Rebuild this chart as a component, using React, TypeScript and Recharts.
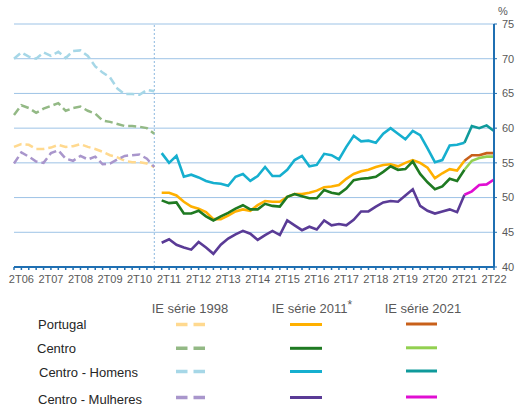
import { LineChart, Line, XAxis, YAxis, CartesianGrid, ReferenceLine } from "recharts";

const quarters = [
  "1T06", "2T06", "3T06", "4T06", "1T07", "2T07", "3T07", "4T07",
  "1T08", "2T08", "3T08", "4T08", "1T09", "2T09", "3T09", "4T09",
  "1T10", "2T10", "3T10", "4T10", "1T11", "2T11", "3T11", "4T11",
  "1T12", "2T12", "3T12", "4T12", "1T13", "2T13", "3T13", "4T13",
  "1T14", "2T14", "3T14", "4T14", "1T15", "2T15", "3T15", "4T15",
  "1T16", "2T16", "3T16", "4T16", "1T17", "2T17", "3T17", "4T17",
  "1T18", "2T18", "3T18", "4T18", "1T19", "2T19", "3T19", "4T19",
  "1T20", "2T20", "3T20", "4T20", "1T21", "2T21", "3T21", "4T21",
  "1T22", "2T22",
];

const yTicks = [40, 45, 50, 55, 60, 65, 70, 75];
const breakQuarter = "4T10";

// IE série 1998 (1T06 - 4T10)
const portugal98 = [57.3, 57.7, 57.6, 57.0, 57.0, 57.2, 57.6, 57.3, 57.4, 57.7, 57.3, 57.0, 56.6, 56.1, 55.8, 55.3, 55.1, 55.1, 54.9, 54.4];
const centro98 = [61.9, 63.3, 62.9, 62.2, 62.8, 63.2, 63.6, 62.5, 62.9, 63.1, 62.5, 62.1, 61.1, 60.9, 60.6, 60.3, 60.3, 60.2, 60.0, 59.2];
const homens98 = [70.0, 70.9, 70.3, 70.0, 70.9, 70.4, 71.0, 70.1, 71.1, 71.2, 70.4, 68.9, 68.0, 67.3, 65.7, 64.9, 64.9, 64.8, 65.5, 65.3];
const mulheres98 = [54.9, 56.5, 55.9, 55.2, 55.0, 56.4, 56.8, 55.6, 55.3, 56.0, 55.5, 55.9, 54.8, 54.9, 55.5, 56.0, 56.1, 56.2, 55.6, 54.4];

// IE série 2011 (1T11 - 2T21)
const portugal11 = [
  50.7, 50.7, 50.3, 49.4, 48.7, 48.4, 47.9, 46.9, 46.9, 47.4,
  48.0, 48.3, 48.1, 48.9, 49.5, 49.4, 49.4, 50.1, 50.5, 50.5,
  50.7, 51.0, 51.5, 51.6, 51.8, 52.7, 53.4, 53.8, 54.0, 54.4,
  54.7, 54.8, 54.5, 55.0, 55.4, 55.0, 54.3, 52.8, 53.5, 54.1,
  53.9, 55.3,
];
const centro11 = [
  49.6, 49.2, 49.3, 47.7, 47.7, 48.1, 47.3, 46.7, 47.3, 47.8,
  48.4, 48.9, 48.3, 48.3, 49.1, 48.8, 48.7, 50.1, 50.5, 50.2,
  49.9, 49.9, 51.1, 50.7, 50.5, 51.3, 52.5, 52.7, 52.8, 53.0,
  53.7, 54.5, 54.0, 54.1, 55.2, 53.4, 52.2, 51.2, 51.6, 52.7,
  52.4, 54.0,
];
const homens11 = [
  56.4, 55.0, 56.0, 53.0, 53.3, 52.9, 52.4, 52.1, 52.0, 51.7,
  53.0, 53.4, 52.4, 53.1, 54.4, 53.1, 53.1, 54.0, 55.4, 56.0,
  54.5, 54.7, 56.3, 56.1, 55.5, 57.3, 58.9, 58.1, 58.2, 57.9,
  59.2, 60.0, 59.2, 58.4, 59.6, 59.0, 57.1, 55.1, 55.4, 57.5,
  57.6, 57.9,
];
const mulheres11 = [
  43.5, 44.0, 43.2, 42.8, 42.5, 43.6, 42.8, 41.9, 43.2, 44.1,
  44.7, 45.2, 44.8, 43.9, 44.6, 45.2, 44.6, 46.7, 46.0, 45.3,
  45.8, 45.4, 46.7, 46.0, 46.2, 46.0, 46.8, 48.0, 48.0, 48.7,
  49.3, 49.5, 49.4, 50.3, 51.2, 48.8, 48.1, 47.7, 48.0, 48.3,
  47.9, 50.4,
];

// IE série 2021 (2T21 - 2T22)
const portugal21 = [55.3, 56.1, 56.1, 56.4, 56.4];
const centro21 = [54.0, 55.3, 55.7, 55.9, 55.9];
const homens21 = [57.9, 60.3, 60.0, 60.4, 59.6];
const mulheres21 = [50.4, 50.9, 51.8, 51.9, 52.6];

const regions = ["Portugal", "Centro", "Centro - Homens", "Centro - Mulheres"];

const seriesList = [
  { key: "pt98", start: "1T06", values: portugal98 },
  { key: "ce98", start: "1T06", values: centro98 },
  { key: "ho98", start: "1T06", values: homens98 },
  { key: "mu98", start: "1T06", values: mulheres98 },
  { key: "pt11", start: "1T11", values: portugal11 },
  { key: "ce11", start: "1T11", values: centro11 },
  { key: "ho11", start: "1T11", values: homens11 },
  { key: "mu11", start: "1T11", values: mulheres11 },
  { key: "pt21", start: "2T21", values: portugal21 },
  { key: "ce21", start: "2T21", values: centro21 },
  { key: "ho21", start: "2T21", values: homens21 },
  { key: "mu21", start: "2T21", values: mulheres21 },
];

const rows = quarters.map((q, i) => {
  const row: Record<string, string | number> = { q };
  seriesList.forEach((s) => {
    const off = quarters.indexOf(s.start);
    const v = s.values[i - off];
    if (i >= off && v !== undefined) row[s.key] = v;
  });
  return row;
});

const colors: Record<string, string> = {
  pt98: "#ffd98f", ce98: "#93b985", ho98: "#a6d7e7", mu98: "#a996cc",
  pt11: "#ffb000", ce11: "#1f7a22", ho11: "#16afcf", mu11: "#5a3b96",
  pt21: "#c8601a", ce21: "#92d050", ho21: "#0f9a9b", mu21: "#e00ed2",
};

const blue = "#1f6fb2";
const font = '"Liberation Sans", Arial, sans-serif';

function LegendTable() {
  const rowKeys = ["pt", "ce", "ho", "mu"];
  const labelX = [38, 37, 39, 38];
  const labelY = [39, 63, 86.5, 114];
  const lineY = [34.5, 58.3, 81.5, 107.5];
  const headerX = [190, 312, 423];
  return (
    <svg width={517} height={118} style={{ position: "absolute", left: 0, top: 290 }} fontFamily={font}>
      <text x={headerX[0]} y={23} textAnchor="middle" fontSize={13} fill="#595959">IE série 1998</text>
      <text x={headerX[1]} y={23} textAnchor="middle" fontSize={13} fill="#595959">
        IE série 2011<tspan dy={-4} fontSize={12}>*</tspan>
      </text>
      <text x={headerX[2]} y={23} textAnchor="middle" fontSize={13} fill="#595959">IE série 2021</text>
      {regions.map((r, i) => (
        <g key={r}>
          <text x={labelX[i]} y={labelY[i]} fontSize={13} fill="#262626">{r}</text>
          <line x1={176} x2={205} y1={lineY[i]} y2={lineY[i]} stroke={colors[rowKeys[i] + "98"]} strokeWidth={3.5} strokeDasharray="11.5 6" />
          <line x1={290} x2={322} y1={lineY[i]} y2={lineY[i]} stroke={colors[rowKeys[i] + "11"]} strokeWidth={3} />
          <line x1={406} x2={437} y1={lineY[i] - 0.5} y2={lineY[i] - 0.5} stroke={colors[rowKeys[i] + "21"]} strokeWidth={3} />
        </g>
      ))}
    </svg>
  );
}

export default function App() {
  return (
    <div style={{ position: "absolute", left: 0, top: 0, width: 517, height: 408, background: "#fff", fontFamily: font }}>
      <LineChart width={517} height={290} data={rows} margin={{ top: 24, right: 0, bottom: 0, left: 14 }}>
        <CartesianGrid vertical={false} stroke="#9dc3e6" />
        <XAxis
          dataKey="q"
          interval={0}
          height={23}
          tickSize={3}
          tickMargin={5}
          tickFormatter={(v: string) => (v.startsWith("2T") ? v : "")}
          tick={{ fontSize: 11, fill: "#595959" }}
          axisLine={{ stroke: blue, strokeWidth: 2 }}
          tickLine={{ stroke: blue, strokeWidth: 1.5 }}
        />
        <YAxis
          orientation="right"
          type="number"
          domain={[40, 75]}
          ticks={yTicks}
          width={23}
          tickSize={3}
          tickMargin={5}
          tick={{ fontSize: 11, fill: "#595959" }}
          axisLine={{ stroke: blue, strokeWidth: 2 }}
          tickLine={{ stroke: blue }}
        />
        <ReferenceLine x={breakQuarter} stroke="#8db8df" strokeDasharray="2 2" />
        {seriesList.map((s) => (
          <Line
            key={s.key}
            type="linear"
            dataKey={s.key}
            stroke={colors[s.key]}
            strokeWidth={s.key.endsWith("98") ? 2.5 : 2.6}
            strokeDasharray={s.key.endsWith("98") ? "8 4" : undefined}
            dot={false}
            activeDot={false}
            isAnimationActive={false}
          />
        ))}
      </LineChart>
      <div style={{ position: "absolute", left: 498, top: 6, fontSize: 11, color: "#595959", lineHeight: 1 }}>%</div>
      <LegendTable />
    </div>
  );
}
